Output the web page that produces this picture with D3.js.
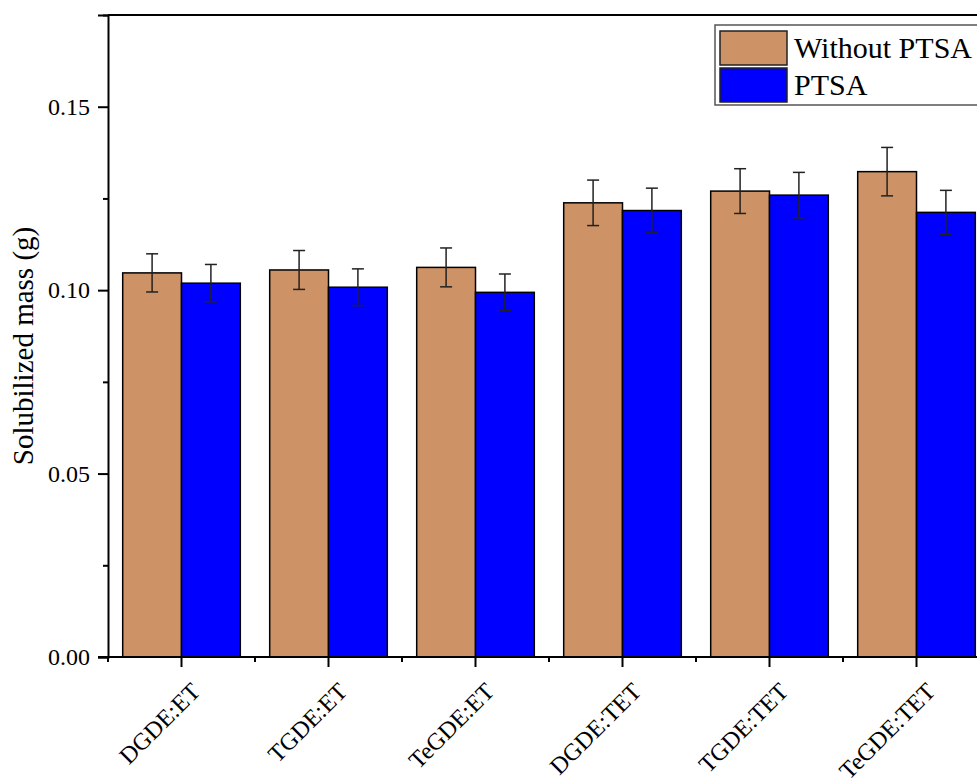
<!DOCTYPE html>
<html>
<head>
<meta charset="utf-8">
<title>Solubilized mass</title>
<script src="https://cdn.jsdelivr.net/npm/d3@7"></script>
<style>
  body { margin: 0; background: #fff; }
  svg { display: block; font-family: 'Liberation Serif', 'Times New Roman', serif; }
  .axis path, .axis line { stroke: #000; stroke-width: 2; }
  .axis text { font-size: 24px; fill: #000; font-family: 'Liberation Serif', 'Times New Roman', serif; }
</style>
</head>
<body>
<svg width="977" height="783"></svg>
<script>
// data
const categories = ['DGDE:ET', 'TGDE:ET', 'TeGDE:ET', 'DGDE:TET', 'TGDE:TET', 'TeGDE:TET'];
const seriesNames = ['Without PTSA', 'PTSA'];
const withoutPTSA = [0.1047, 0.1055, 0.1062, 0.1238, 0.1270, 0.1323];
const withoutErr  = [0.0052, 0.0053, 0.0053, 0.0062, 0.0061, 0.0066];
const ptsa        = [0.1019, 0.1008, 0.0994, 0.1217, 0.1259, 0.1212];
const ptsaErr     = [0.0051, 0.0050, 0.0050, 0.0061, 0.0062, 0.0060];
const yTicks = [0, 0.05, 0.10, 0.15];
const yMinor = [0.025, 0.075, 0.125, 0.175];
const colors = ['#cd9265', '#0000ff'];

const svg = d3.select('svg');
const mLeft = 108, mRight = 990, mTop = 15, mBottom = 657;

const x = d3.scaleBand().domain(categories).range([mLeft, mRight]).paddingInner(0.2).paddingOuter(0.1);
const xSub = d3.scaleBand().domain(seriesNames).range([0, x.bandwidth()]);
const y = d3.scaleLinear().domain([0, 0.175]).range([mBottom, mTop]);

const rows = categories.map((c, i) => ({
  cat: c,
  vals: [
    { s: seriesNames[0], v: withoutPTSA[i], e: withoutErr[i], c: colors[0] },
    { s: seriesNames[1], v: ptsa[i], e: ptsaErr[i], c: colors[1] }
  ]
}));

// bars
const groups = svg.append('g').selectAll('g').data(rows).join('g')
  .attr('transform', d => `translate(${x(d.cat)},0)`);

groups.selectAll('rect').data(d => d.vals).join('rect')
  .attr('x', d => xSub(d.s))
  .attr('y', d => y(d.v))
  .attr('width', xSub.bandwidth())
  .attr('height', d => y(0) - y(d.v))
  .attr('fill', d => d.c)
  .attr('stroke', '#000')
  .attr('stroke-width', 1.5);

// error bars
const eb = groups.selectAll('g.err').data(d => d.vals).join('g').attr('class', 'err')
  .attr('stroke', '#222').attr('stroke-width', 1.5);
const cx = d => xSub(d.s) + xSub.bandwidth() / 2;
eb.append('line').attr('x1', cx).attr('x2', cx)
  .attr('y1', d => y(d.v + d.e)).attr('y2', d => y(d.v - d.e));
eb.append('line').attr('x1', d => cx(d) - 6).attr('x2', d => cx(d) + 6)
  .attr('y1', d => y(d.v + d.e)).attr('y2', d => y(d.v + d.e));
eb.append('line').attr('x1', d => cx(d) - 6).attr('x2', d => cx(d) + 6)
  .attr('y1', d => y(d.v - d.e)).attr('y2', d => y(d.v - d.e));

// y axis
svg.append('g').attr('class', 'axis')
  .attr('transform', `translate(${mLeft},0)`)
  .call(d3.axisLeft(y).tickValues(yTicks).tickFormat(d3.format('.2f')).tickSize(10).tickPadding(8));
svg.append('g').attr('class', 'axis')
  .attr('transform', `translate(${mLeft},0)`)
  .call(d3.axisLeft(y).tickValues(yMinor).tickFormat('').tickSize(5).tickSizeOuter(0))
  .select('.domain').remove();

// x axis
const xAxis = svg.append('g').attr('class', 'axis')
  .attr('transform', `translate(0,${mBottom})`)
  .call(d3.axisBottom(x).tickSize(10).tickSizeOuter(0).tickFormat(''));
xAxis.select('.domain').attr('d', `M${mLeft - 10},0H${mRight}`);
xAxis.selectAll('.tick')
  .append('text')
  .attr('transform', 'translate(20,36) rotate(-45)')
  .attr('text-anchor', 'end')
  .attr('fill', '#000')
  .style('font-size', '24px')
  .text(d => d);
// minor ticks at category boundaries
const gap = (x.step() - x.bandwidth()) / 2;
svg.append('g').selectAll('line')
  .data(categories.map(c => x(c) - gap))
  .join('line')
  .attr('x1', d => d).attr('x2', d => d)
  .attr('y1', mBottom).attr('y2', mBottom + 5)
  .attr('stroke', '#000').attr('stroke-width', 2);

// top frame
svg.append('line').attr('x1', mLeft).attr('x2', mRight).attr('y1', mTop).attr('y2', mTop)
  .attr('stroke', '#000').attr('stroke-width', 2);

// y label
svg.append('text')
  .attr('transform', `translate(33,${(mTop + mBottom) / 2 + 10}) rotate(-90)`)
  .attr('text-anchor', 'middle')
  .style('font-size', '29px')
  .text('Solubilized mass (g)');

// legend
const lg = svg.append('g').attr('transform', 'translate(715,25)');
lg.append('rect').attr('x', 0).attr('y', 0).attr('width', 300).attr('height', 80)
  .attr('fill', '#fff').attr('stroke', '#555').attr('stroke-width', 1.5);
seriesNames.forEach((s, i) => {
  lg.append('rect').attr('x', 5).attr('y', 6 + i * 37).attr('width', 67).attr('height', 34)
    .attr('fill', colors[i]).attr('stroke', '#222').attr('stroke-width', 1.5);
  lg.append('text').attr('x', 79).attr('y', 33 + i * 37)
    .style('font-size', '30px').text(s);
});
</script>
</body>
</html>
